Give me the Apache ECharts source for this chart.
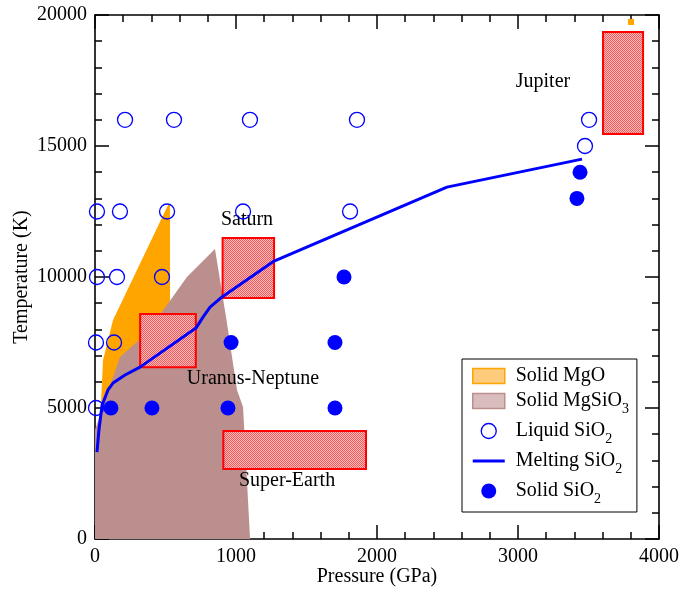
<!DOCTYPE html>
<html><head><meta charset="utf-8">
<script src="https://cdn.jsdelivr.net/npm/echarts@6/dist/echarts.min.js"></script>
<style>html,body{margin:0;padding:0;background:#fff}#c{width:681px;height:589px}</style>
</head><body><div id="c"></div><script>
// ---- data (pressure GPa, temperature K) ----
const liquidSiO2 = [[213,16000],[560,16000],[1099,16000],[1858,16000],[14,12500],[177,12500],[511,12500],[1050,12500],[1809,12500],[14,10000],[156,10000],[475,10000],[7,7500],[135,7500],[7,5000],[3475,15000],[3504,16000]];
const solidSiO2 = [[113,5000],[404,5000],[943,5000],[1702,5000],[965,7500],[1702,7500],[1766,10000],[3440,14000],[3418,13000]];
const meltingSiO2 = [[14,3320],[28,4160],[50,5100],[92,5690],[128,5950],[213,6260],[319,6560],[716,8050],[766,8470],[816,8850],[901,9240],[1270,10610],[2496,13430],[3454,14500]];
const solidMgO = [[30,4000],[35,4300],[57,6830],[128,8360],[518,12750],[532,12750],[532,5000]];
const solidMgOTop = [[3780,19620],[3823,19620],[3823,19850],[3780,19850]];
const solidMgSiO3 = [[0,0],[0,4160],[177,6950],[369,7860],[652,10000],[851,11070],[936,8240],[1007,5690],[1050,5040],[1099,80],[1100,0]];
const planetNames = ['Uranus-Neptune','Saturn','Super-Earth','Jupiter'];
const boxPressure = [[320,715],[905,1270],[910,1922],[3603,3887]];
const boxTemp = [[6560,8590],[9200,11490],[2670,4120],[15460,19350]];
const labelPos = [[1120,6110],[1078,12180],[1362,2220],[3177,17450]];
const xTicks = [0,1000,2000,3000,4000];
const yTicks = [0,5000,10000,15000,20000];

function pattern(a, b) {
  const c = document.createElement('canvas'); c.width = 2; c.height = 2;
  const g = c.getContext('2d');
  g.fillStyle = a; g.fillRect(0,0,2,2);
  g.fillStyle = b; g.fillRect(1,0,1,1); g.fillRect(0,1,1,1);
  return {image: c, repeat: 'repeat'};
}
const redPat = pattern('#f55858', '#ffbcbc');
const orangePat = pattern('#ffb84d', '#ffe0b0');
const brownPat = pattern('#c9a3a3', '#ead8d8');

const FF = 'Liberation Serif, Times New Roman, serif';
const chart = echarts.init(document.getElementById('c'));

function polySeries(name, pts, color) {
  return {
    name: name, type: 'custom', data: [0], silent: true,
    itemStyle: {color: color},
    renderItem: function (params, api) {
      return {type: 'polygon', shape: {points: pts.map(p => api.coord(p))}, style: {fill: color}};
    }
  };
}

const axisCommon = {
  type: 'value', min: 0,
  splitLine: {show: false},
  axisLine: {onZero: false, lineStyle: {color: '#000', width: 1.6}},
  axisTick: {inside: true, length: 14, lineStyle: {color: '#000', width: 1.5}},
  minorTick: {show: true, splitNumber: 5, length: 7, lineStyle: {color: '#000', width: 1.5}},
  axisLabel: {fontFamily: FF, fontSize: 20, color: '#000', margin: 8, formatter: v => String(v)}
};

function legendLabel(name) {
  const m = {
    'Solid MgO': '{t|Solid MgO}',
    'Solid MgSiO3': '{t|Solid MgSiO}{s|3}',
    'Liquid SiO2': '{t|Liquid SiO}{s|2}',
    'Melting SiO2': '{t|Melting SiO}{s|2}',
    'Solid SiO2': '{t|Solid SiO}{s|2}'
  };
  return m[name];
}

chart.setOption({
  animation: false,
  grid: {left: 95, right: 22, top: 15, bottom: 50, outerBoundsMode: 'none', containLabel: false},
  xAxis: [
    Object.assign({}, axisCommon, {max: 4000, interval: 1000, position: 'bottom',
      name: 'Pressure (GPa)', nameLocation: 'middle', nameGap: 28, nameMoveOverlap: false,
      nameTextStyle: {fontFamily: FF, fontSize: 20, color: '#000'}}),
    Object.assign({}, axisCommon, {max: 4000, interval: 1000, position: 'top', axisLabel: {show: false}})
  ],
  yAxis: [
    Object.assign({}, axisCommon, {max: 20000, interval: 5000, position: 'left',
      name: 'Temperature (K)', nameLocation: 'middle', nameGap: 63, nameMoveOverlap: false,
      nameTextStyle: {fontFamily: FF, fontSize: 20, color: '#000'}}),
    Object.assign({}, axisCommon, {max: 20000, interval: 5000, position: 'right', axisLabel: {show: false}})
  ],
  legend: {
    orient: 'vertical', left: 462, top: 359,
    borderColor: '#000', borderWidth: 1, padding: [7, 8, 6, 10],
    itemWidth: 32, itemHeight: 15, itemGap: 5,
    formatter: legendLabel,
    textStyle: {fontFamily: FF, fontSize: 20, color: '#000',
      rich: {
        t: {fontFamily: FF, fontSize: 20, color: '#000', padding: [0,0,0,6]},
        s: {fontFamily: FF, fontSize: 14, color: '#000', verticalAlign: 'bottom', lineHeight: 30}
      }},
    data: [
      {name: 'Solid MgO', icon: 'rect', itemStyle: {color: orangePat, borderColor: '#ffa500', borderWidth: 1.5}},
      {name: 'Solid MgSiO3', icon: 'rect', itemStyle: {color: brownPat, borderColor: '#bc8f8f', borderWidth: 1.5}},
      {name: 'Liquid SiO2', icon: 'circle', itemStyle: {color: '#fff', borderColor: '#0000ff', borderWidth: 1.3, opacity: 1}},
      {name: 'Melting SiO2', icon: 'path://M0,0 L32,0 L32,3 L0,3 Z', itemStyle: {color: '#0000ff', borderWidth: 0}},
      {name: 'Solid SiO2', icon: 'circle', itemStyle: {color: '#0000ff', opacity: 1}}
    ]
  },
  series: [
    polySeries('Solid MgO', solidMgO, '#ffa500'),
    polySeries('Solid MgO', solidMgOTop, '#ffa500'),
    polySeries('Solid MgSiO3', solidMgSiO3, '#bc8f8f'),
    {
      name: 'Melting SiO2', type: 'line', data: meltingSiO2, symbol: 'none', showSymbol: false,
      lineStyle: {color: '#0000ff', width: 3}, itemStyle: {color: '#0000ff'}
    },
    {
      name: 'planets', type: 'custom', data: planetNames.map((n, i) => i), silent: true,
      renderItem: function (params, api) {
        const i = params.dataIndex;
        const p0 = api.coord([boxPressure[i][0], boxTemp[i][1]]);
        const p1 = api.coord([boxPressure[i][1], boxTemp[i][0]]);
        return {type: 'rect', shape: {x: p0[0], y: p0[1], width: p1[0]-p0[0], height: p1[1]-p0[1]},
          style: {fill: redPat, stroke: '#ff0000', lineWidth: 2}};
      }
    },
    {
      name: 'Liquid SiO2', type: 'scatter', data: liquidSiO2, symbol: 'circle', symbolSize: 15,
      itemStyle: {color: 'rgba(0,0,0,0)', borderColor: '#0000ff', borderWidth: 1.3, opacity: 1}
    },
    {
      name: 'Solid SiO2', type: 'scatter', data: solidSiO2, symbol: 'circle', symbolSize: 15,
      itemStyle: {color: '#0000ff', opacity: 1}
    },
    {
      name: 'labels', type: 'custom', data: planetNames.map((n, i) => i), silent: true,
      renderItem: function (params, api) {
        const i = params.dataIndex;
        const p = api.coord(labelPos[i]);
        return {type: 'text', x: p[0], y: p[1],
          style: {text: planetNames[i], fontFamily: FF, fontSize: 20, fill: '#000', align: 'center', verticalAlign: 'middle'}};
      }
    }
  ]
});
</script></body></html>
